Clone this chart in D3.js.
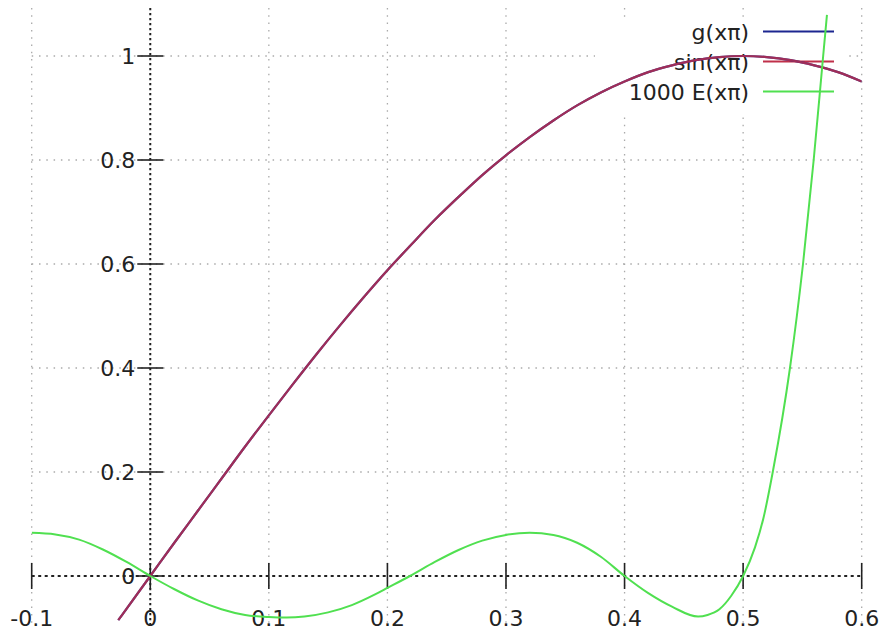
<!DOCTYPE html>
<html>
<head>
<meta charset="utf-8">
<script src="https://cdn.jsdelivr.net/npm/d3@7"></script>
<style>
  body { margin: 0; background: #fff; }
  text { font-family: "DejaVu Sans", sans-serif; font-size: 22px; fill: #222; }
</style>
</head>
<body>
<div id="canvas"></div>
<script>
var width = 886
var height = 632

// tick values
var xTicks = [-0.1, 0, 0.1, 0.2, 0.3, 0.4, 0.5, 0.6]
var yTicks = [0, 0.2, 0.4, 0.6, 0.8, 1]

// sin(x pi) (g(x pi) sits on top of it)
var sinX = [-0.027, 0, 0.02, 0.04, 0.06, 0.08, 0.1, 0.12, 0.14, 0.16, 0.18, 0.2, 0.22, 0.24, 0.26, 0.28, 0.3,
            0.32, 0.34, 0.36, 0.38, 0.4, 0.42, 0.44, 0.46, 0.48, 0.5, 0.52, 0.54, 0.56, 0.58, 0.6]
var sinY = [-0.085, 0, 0.063, 0.125, 0.187, 0.249, 0.309, 0.368, 0.426, 0.482, 0.536, 0.588, 0.637, 0.685, 0.729, 0.771, 0.809,
            0.844, 0.876, 0.905, 0.930, 0.951, 0.969, 0.982, 0.992, 0.998, 1.0, 0.998, 0.992, 0.982, 0.969, 0.951]

// 1000 E(x pi)
var errX = [-0.1, -0.08, -0.06, -0.04, -0.02, 0, 0.02, 0.04, 0.06, 0.08, 0.1, 0.115, 0.13, 0.15, 0.17, 0.19, 0.2, 0.219,
            0.24, 0.26, 0.28, 0.3, 0.32, 0.34, 0.36, 0.38, 0.4, 0.42, 0.44, 0.462, 0.47, 0.48, 0.49, 0.5, 0.51, 0.517,
            0.525, 0.5395, 0.5505, 0.5595, 0.5675, 0.5707]
var errY = [0.083, 0.080, 0.070, 0.051, 0.027, 0, -0.025, -0.047, -0.064, -0.075, -0.079, -0.080, -0.078, -0.070, -0.056, -0.035, -0.023, 0,
            0.027, 0.050, 0.068, 0.079, 0.083, 0.079, 0.064, 0.037, 0, -0.033, -0.059, -0.078, -0.075, -0.064, -0.038, 0, 0.055, 0.11,
            0.2, 0.4, 0.6, 0.8, 1.0, 1.079]

var seriesNames = ["g(xπ)", "sin(xπ)", "1000 E(xπ)"]
var seriesColors = ["#1c2690", "#c0304a", "#50e050"]

var svg = d3.select("#canvas")
    .append("svg")
    .attr("width", width)
    .attr("height", height)

var xScale = d3.scaleLinear().domain([-0.1, 0.6]).range([31.7, 861.7])
var yScale = d3.scaleLinear().domain([0, 1]).range([576, 56])

var yTop = yScale(1.1) + 4
var yBottom = yScale(-0.1)

// grid
svg.append("g")
    .selectAll("line")
    .data(xTicks.filter(function (d) { return d != 0 }))
    .enter()
    .append("line")
    .attr("x1", function (d) { return xScale(d) })
    .attr("x2", function (d) { return xScale(d) })
    .attr("y1", yTop)
    .attr("y2", yBottom)
    .attr("stroke", "#aaa")
    .attr("stroke-width", 1.3)
    .attr("stroke-dasharray", "1.5,5.8")

svg.append("g")
    .selectAll("line")
    .data(yTicks.filter(function (d) { return d != 0 }))
    .enter()
    .append("line")
    .attr("x1", xScale(-0.1))
    .attr("x2", xScale(0.6))
    .attr("y1", function (d) { return yScale(d) })
    .attr("y2", function (d) { return yScale(d) })
    .attr("stroke", "#aaa")
    .attr("stroke-width", 1.3)
    .attr("stroke-dasharray", "1.5,5.8")

// key background hides the grid
svg.append("rect")
    .attr("x", 595)
    .attr("y", 18)
    .attr("width", 250)
    .attr("height", 94)
    .attr("fill", "#fff")

// zero axes
svg.append("line")
    .attr("x1", xScale(-0.1)).attr("x2", xScale(0.6))
    .attr("y1", yScale(0)).attr("y2", yScale(0))
    .attr("stroke", "#222").attr("stroke-width", 2)
    .attr("stroke-dasharray", "3,3.5")

svg.append("line")
    .attr("x1", xScale(0)).attr("x2", xScale(0))
    .attr("y1", yTop).attr("y2", yBottom)
    .attr("stroke", "#222").attr("stroke-width", 2)
    .attr("stroke-dasharray", "2.2,2.8")

// ticks
svg.append("g")
    .selectAll("line")
    .data(xTicks)
    .enter()
    .append("line")
    .attr("x1", function (d) { return xScale(d) })
    .attr("x2", function (d) { return xScale(d) })
    .attr("y1", yScale(0) - 13)
    .attr("y2", yScale(0) + 13)
    .attr("stroke", "#222")
    .attr("stroke-width", 1.6)

svg.append("g")
    .selectAll("line")
    .data(yTicks)
    .enter()
    .append("line")
    .attr("x1", xScale(0) - 13)
    .attr("x2", xScale(0) + 13)
    .attr("y1", function (d) { return yScale(d) })
    .attr("y2", function (d) { return yScale(d) })
    .attr("stroke", "#222")
    .attr("stroke-width", 1.6)

// tick labels
svg.append("g")
    .selectAll("text")
    .data(xTicks)
    .enter()
    .append("text")
    .attr("x", function (d) { return xScale(d) })
    .attr("y", 626)
    .attr("text-anchor", "middle")
    .text(function (d) { return String(d) })

svg.append("g")
    .selectAll("text")
    .data(yTicks)
    .enter()
    .append("text")
    .attr("x", xScale(0) - 15)
    .attr("y", function (d) { return yScale(d) + 8 })
    .attr("text-anchor", "end")
    .text(function (d) { return String(d) })

// key
var legend = svg.append("g")

var legendEntry = legend.selectAll("g")
    .data(seriesNames)
    .enter()
    .append("g")
    .attr("transform", function (d, i) { return "translate(0," + (31.5 + i * 30) + ")" })

legendEntry.append("text")
    .attr("x", 749)
    .attr("y", 8)
    .attr("text-anchor", "end")
    .text(function (d) { return d })

legendEntry.append("line")
    .attr("x1", 763)
    .attr("x2", 834)
    .attr("stroke", function (d, i) { return seriesColors[i] })
    .attr("stroke-width", 2)

// curves
svg.append("clipPath")
    .attr("id", "plotclip")
    .append("rect")
    .attr("x", xScale(-0.1))
    .attr("y", yTop)
    .attr("width", xScale(0.6) - xScale(-0.1))
    .attr("height", yBottom - yTop)

var line = d3.line()
    .x(function (d) { return xScale(d[0]) })
    .y(function (d) { return yScale(d[1]) })
    .curve(d3.curveMonotoneX)

var sinData = sinX.map(function (x, i) { return [x, sinY[i]] })
var errData = errX.map(function (x, i) { return [x, errY[i]] })

var curves = svg.append("g").attr("clip-path", "url(#plotclip)")

curves.append("path")
    .attr("d", line(sinData))
    .attr("fill", "none")
    .attr("stroke", seriesColors[0])
    .attr("stroke-width", 2.2)

curves.append("path")
    .attr("d", line(sinData))
    .attr("fill", "none")
    .attr("stroke", seriesColors[1])
    .attr("stroke-opacity", 0.8)
    .attr("stroke-width", 2.2)

curves.append("path")
    .attr("d", line(errData))
    .attr("fill", "none")
    .attr("stroke", seriesColors[2])
    .attr("stroke-width", 2)
</script>
</body>
</html>
